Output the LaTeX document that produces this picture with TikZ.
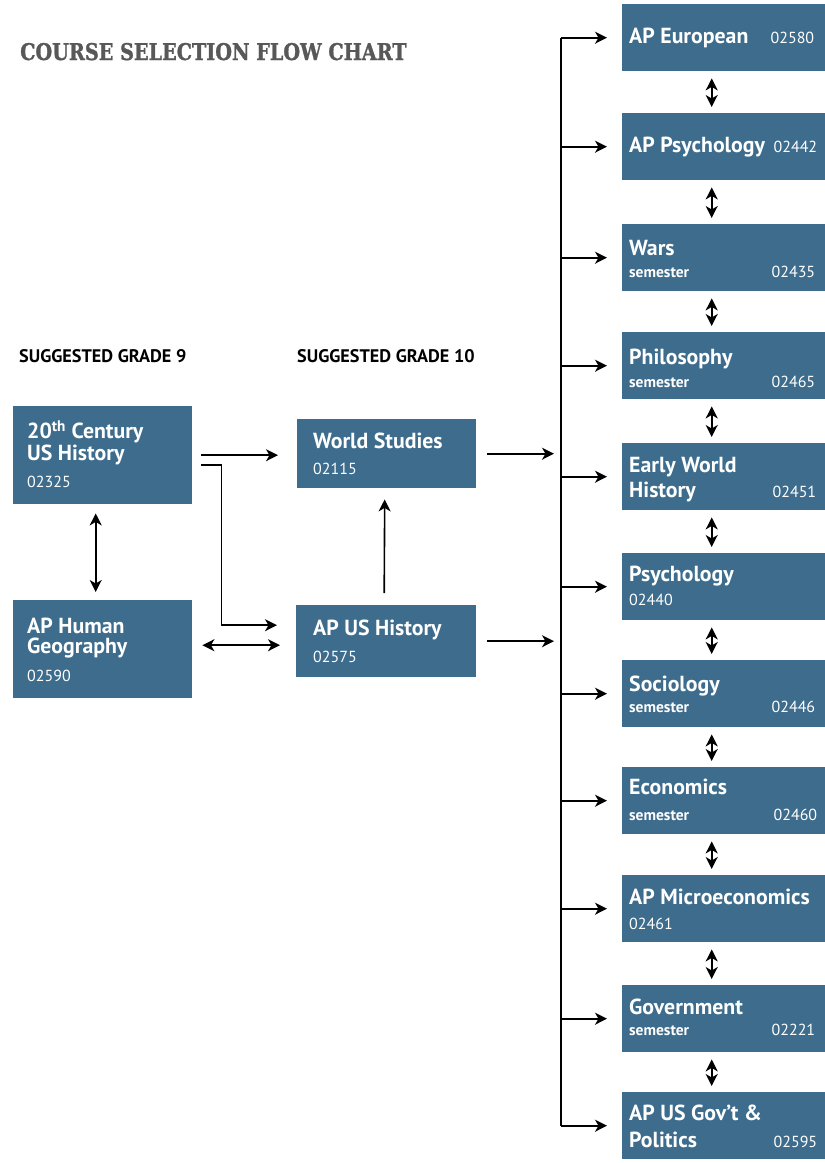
\documentclass[tikz,border=0pt]{standalone}
\usepackage{fontspec}
\setmainfont{PT Sans}
\newfontfamily\titlefont[FakeStretch=0.835,FakeBold=1.2]{DejaVu Serif Bold}
\usetikzlibrary{arrows.meta}
\definecolor{boxblue}{RGB}{61,108,141}
\definecolor{titlegray}{RGB}{88,88,88}
\tikzset{
  box/.style={fill=boxblue, draw=none, inner sep=0pt, anchor=north west},
  rbox/.style={box, minimum width=203pt, minimum height=67pt},
  ttl/.style={text=white, font=\bfseries\fontsize{21.8}{22}\selectfont, inner sep=0pt, anchor=base west},
  ttltwo/.style={ttl, align=left, font=\bfseries\fontsize{21.8}{19.5}\selectfont},
  num/.style={text=white, font=\fontsize{16}{16}\selectfont, inner sep=0pt, anchor=base east},
  numl/.style={num, anchor=base west},
  sem/.style={text=white, font=\bfseries\fontsize{15.5}{15.5}\selectfont, inner sep=0pt, anchor=base west},
  hdr/.style={font=\bfseries\fontsize{18.2}{18}\selectfont, inner sep=0pt, anchor=base west},
  arr/.style={line width=1.6pt, -{Stealth[length=12pt,width=12pt,inset=3.5pt]}},
  darr/.style={line width=1.6pt, {Stealth[length=12pt,width=12pt,inset=3.5pt]}-{Stealth[length=12pt,width=12pt,inset=3.5pt]}},
  plain/.style={line width=1.6pt},
}
\begin{document}
\begin{tikzpicture}[x=1pt,y=-1pt]
\useasboundingbox (0,0) rectangle (825,1163);

% title and headers
\node[anchor=base west, inner sep=0pt, text=titlegray, font=\titlefont\fontsize{23}{23}\selectfont] (title) at (20,60) {COURSE SELECTION FLOW CHART};
\node[hdr] (h9) at (19,362) {SUGGESTED GRADE 9};
\node[hdr] (h10) at (297,362) {SUGGESTED GRADE 10};

% left column (base anchor of two-line text = last line)
\node[box, minimum width=179pt, minimum height=98pt] (t20) at (13,406) {};
\node[ttltwo] (t20a) at (27,460) {20\textsuperscript{th} Century\\US History};
\node[numl] (t20n) at (27,487) {02325};

\node[box, minimum width=179pt, minimum height=98pt] (aphg) at (13,600) {};
\node[ttltwo] (aphga) at (27,653) {AP Human\\Geography};
\node[numl] (aphgn) at (27,681) {02590};

% middle column
\node[box, minimum width=179pt, minimum height=69pt] (ws) at (297,419) {};
\node[ttl] (wsa) at (313,448) {World Studies};
\node[numl] (wsn) at (313,474) {02115};

\node[box, minimum width=180pt, minimum height=72pt] (apus) at (296,605) {};
\node[ttl] (apusa) at (313,635) {AP US History};
\node[numl] (apusn) at (313,662) {02575};

% right column
\node[rbox] (eur) at (622,4) {};
\node[ttl] (eura) at ([shift={(7,39)}]eur.north west) {AP European};
\node[num] (eurn) at ([shift={(-11,39)}]eur.north east) {02580};

\node[rbox] (appsy) at (622,113) {};
\node[ttl] (appsya) at ([shift={(7,39)}]appsy.north west) {AP Psychology};
\node[num] (appsyn) at ([shift={(-8,39)}]appsy.north east) {02442};

\node[rbox] (wars) at (622,224) {};
\node[ttl] (warsa) at ([shift={(7,31)}]wars.north west) {Wars};
\node[sem] (warsb) at ([shift={(7,53)}]wars.north west) {semester};
\node[num] (warsn) at ([shift={(-10,53)}]wars.north east) {02435};

\node[rbox] (phil) at (622,332) {};
\node[ttl] (phila) at ([shift={(7,32)}]phil.north west) {Philosophy};
\node[sem] (philb) at ([shift={(7,55)}]phil.north west) {semester};
\node[num] (philn) at ([shift={(-10,55)}]phil.north east) {02465};

\node[rbox] (early) at (622,443) {};
\node[ttl] (earlya) at ([shift={(7,29)}]early.north west) {Early World};
\node[ttl] (earlyb) at ([shift={(7,54)}]early.north west) {History};
\node[num] (earlyn) at ([shift={(-9,54)}]early.north east) {02451};

\node[rbox] (psy) at (622,553) {};
\node[ttl] (psya) at ([shift={(7,28)}]psy.north west) {Psychology};
\node[numl] (psyn) at ([shift={(7,52)}]psy.north west) {02440};

\node[rbox] (soc) at (622,660) {};
\node[ttl] (soca) at ([shift={(7,31)}]soc.north west) {Sociology};
\node[sem] (socb) at ([shift={(7,52)}]soc.north west) {semester};
\node[num] (socn) at ([shift={(-10,52)}]soc.north east) {02446};

\node[rbox] (econ) at (622,767) {};
\node[ttl] (econa) at ([shift={(7,27)}]econ.north west) {Economics};
\node[sem] (econb) at ([shift={(7,53)}]econ.north west) {semester};
\node[num] (econn) at ([shift={(-8,53)}]econ.north east) {02460};

\node[rbox] (micro) at (622,875) {};
\node[ttl] (microa) at ([shift={(7,29)}]micro.north west) {AP Microeconomics};
\node[numl] (micron) at ([shift={(7,54)}]micro.north west) {02461};

\node[rbox] (gov) at (622,985) {};
\node[ttl] (gova) at ([shift={(7,29)}]gov.north west) {Government};
\node[sem] (govb) at ([shift={(7,50)}]gov.north west) {semester};
\node[num] (govn) at ([shift={(-10,50)}]gov.north east) {02221};

\node[rbox] (usgov) at (622,1092) {};
\node[ttl] (usgova) at ([shift={(7,28)}]usgov.north west) {AP US Gov’t \&};
\node[ttl] (usgovb) at ([shift={(7,55)}]usgov.north west) {Politics};
\node[num] (usgovn) at ([shift={(-8,55)}]usgov.north east) {02595};

% connectors, left and middle
\draw[arr] ([xshift=9pt]t20.east) -- ([xshift=-19pt]t20.east -| ws.west);
\draw[arr] ([shift={(9,10)}]t20.east) -- ++(20,0) |- ([shift={(-19,-16)}]apus.west);
\draw[darr] ([shift={(10,-4)}]aphg.east) -- ([shift={(-16,-4)}]aphg.east -| apus.west);
\draw[darr] ([shift={(-7,9)}]t20.south) -- ([shift={(-7,-8)}]aphg.north);
\draw[arr] ([shift={(-2,-12)}]apus.north) -- ([shift={(-2,11)}]ws.south);

% trunk
\coordinate (trunkX) at (561,0);
\coordinate (trunkTop) at (eur.west -| trunkX);
\coordinate (trunkBot) at (usgov.west -| trunkX);
\draw[plain] (trunkTop) -- (trunkBot);
\draw[arr] ([xshift=11pt]ws.east) -- ([xshift=-7pt]ws.east -| trunkX);
\draw[arr] ([xshift=11pt]apus.east) -- ([xshift=-7pt]apus.east -| trunkX);

\foreach \b in {eur,appsy,wars,phil,early,psy,soc,econ,micro,gov,usgov}{
  \draw[arr] (\b.west -| trunkX) -- ([xshift=-15pt]\b.west);
}

% double arrows between right boxes
\foreach \a/\b in {eur/appsy,appsy/wars,wars/phil,phil/early,early/psy,psy/soc,soc/econ,econ/micro,micro/gov,gov/usgov}{
  \draw[darr] ([shift={(-12,7)}]\a.south) -- ([shift={(-12,-6)}]\b.north);
}
\end{tikzpicture}
\end{document}
